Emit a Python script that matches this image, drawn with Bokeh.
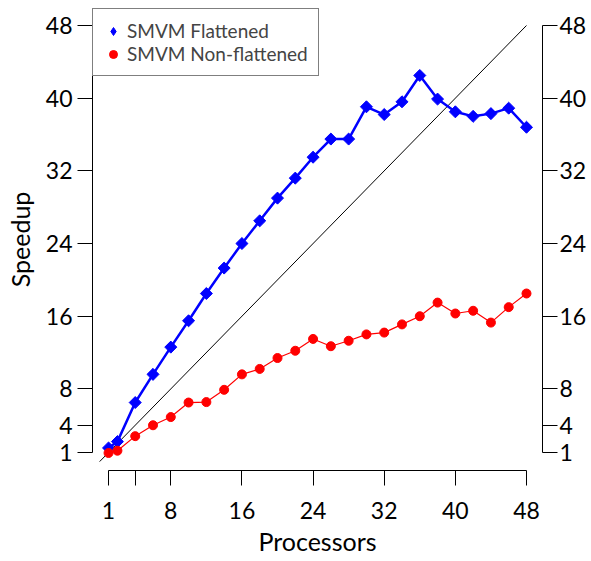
import math
from bokeh.plotting import figure
from bokeh.models import LinearAxis, FixedTicker, Range1d, Legend, LegendItem, ColumnDataSource
from bokeh.embed import file_html
from bokeh.resources import INLINE

processors = [1, 2, 4, 6, 8, 10, 12, 14, 16, 18, 20, 22, 24, 26, 28, 30,
              32, 34, 36, 38, 40, 42, 44, 46, 48]
flattened = [1.5, 2.2, 6.5, 9.6, 12.6, 15.5, 18.5, 21.3, 24.0, 26.5, 29.0,
             31.2, 33.5, 35.5, 35.5, 39.05, 38.2, 39.6, 42.5, 39.9, 38.5,
             38.0, 38.3, 38.9, 36.8]
non_flattened = [0.95, 1.2, 2.8, 4.0, 4.9, 6.5, 6.55, 7.9, 9.6, 10.2, 11.4,
                 12.2, 13.5, 12.7, 13.3, 14.0, 14.2, 15.1, 16.0, 17.5, 16.3,
                 16.6, 15.3, 17.0, 18.5]
ideal_x = [0, 48]
ideal_y = [0, 48]

x_ticks = [1, 4, 8, 16, 24, 32, 40, 48]
x_hidden_labels = {4: ""}
y_ticks = [1, 4, 8, 16, 24, 32, 40, 48]

FONT = "Lato"

p = figure(width=591, height=561,
           x_range=Range1d(-0.804, 49.8), y_range=Range1d(-0.98, 49.87),
           output_backend="svg", toolbar_location=None,
           x_axis_location=None, y_axis_location=None,
           min_border_left=92, min_border_right=49,
           min_border_top=8, min_border_bottom=91)
p.outline_line_color = None
p.xgrid.visible = False
p.ygrid.visible = False
p.background_fill_color = "white"
p.border_fill_color = "white"


def style_axis(ax, label_size="23px"):
    ax.major_tick_out = 15
    ax.major_tick_in = 0
    ax.minor_tick_out = 0
    ax.minor_tick_in = 0
    ax.axis_line_color = "black"
    ax.major_tick_line_color = "black"
    ax.major_label_text_font = FONT
    ax.major_label_text_font_size = label_size
    ax.major_label_text_color = "black"
    ax.axis_label_text_font = FONT
    ax.axis_label_text_font_size = "25px"
    ax.axis_label_text_font_style = "normal"
    ax.axis_label_text_color = "black"


left = LinearAxis(bounds=(1, 48), ticker=FixedTicker(ticks=y_ticks),
                  axis_label="Speedup")
style_axis(left)
left.major_label_standoff = 5
left.axis_label_standoff = 8
p.add_layout(left, "left")

right = LinearAxis(bounds=(1, 48), ticker=FixedTicker(ticks=y_ticks))
style_axis(right)
right.major_label_standoff = 2
p.add_layout(right, "right")

bottom = LinearAxis(bounds=(1, 48), ticker=FixedTicker(ticks=x_ticks),
                    major_label_overrides=x_hidden_labels,
                    axis_label="Processors")
style_axis(bottom)
bottom.major_label_standoff = 16
bottom.axis_label_standoff = 4
p.add_layout(bottom, "below")

# ideal speedup
p.line(ideal_x, ideal_y, line_color="black", line_width=1)

src = ColumnDataSource(dict(x=processors, f=flattened, n=non_flattened))
p.line("x", "f", source=src, line_color="#0000ff", line_width=2.5)
# diamond-shaped key glyph (hidden under the rotated squares, used by the legend)
key_f = p.scatter("x", "f", source=src, marker="diamond", size=8,
                  fill_color="#0000ff", line_color="#0000ff")
p.scatter("x", "f", source=src, marker="square", angle=math.pi / 4,
          size=8.5, fill_color="#0000ff", line_color="#0000ff")
p.line("x", "n", source=src, line_color="#ff0000", line_width=1.2)
r_n = p.scatter("x", "n", source=src, marker="circle", size=9,
                fill_color="#ff0000", line_color="#ff0000")

legend = Legend(items=[LegendItem(label="SMVM Flattened", renderers=[key_f]),
                       LegendItem(label="SMVM Non-flattened", renderers=[r_n])],
                location="top_left", margin=0, padding=10, spacing=0,
                glyph_width=20, glyph_height=22, label_height=22,
                label_standoff=4,
                label_text_font=FONT, label_text_font_size="19px",
                border_line_color="black", border_line_width=1,
                background_fill_color="white", background_fill_alpha=1.0)
p.add_layout(legend, "center")

open("out.html", "w").write(file_html(p, INLINE))
